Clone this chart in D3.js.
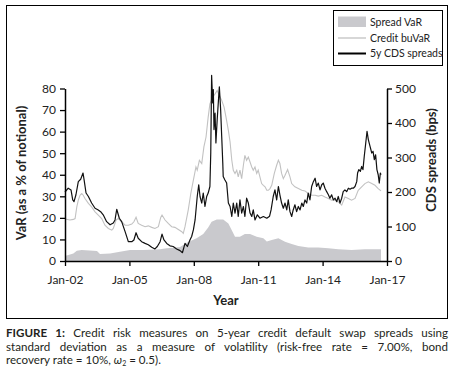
<!DOCTYPE html>
<html>
<head>
<meta charset="utf-8">
<script src="https://cdn.jsdelivr.net/npm/d3@7"></script>
<style>
  html, body { margin: 0; padding: 0; background: #fff; }
  body { width: 455px; height: 375px; overflow: hidden; font-family: Lato, "Open Sans", sans-serif; }
  #cap { position: absolute; left: 6px; top: 326px; width: 442px; font-size: 11.6px; line-height: 13.6px; color: #231f20; }
  #cap div { white-space: nowrap; height: 13.6px; }
  #cap .j { text-align: justify; text-align-last: justify; white-space: normal; }
  #cap b { font-weight: 700; }
  #cap sub { font-size: 7px; vertical-align: baseline; position: relative; top: 2px; line-height: 0; }
</style>
</head>
<body>
<svg id="chart" width="455" height="326" style="position:absolute;left:0;top:0"></svg>
<div id="cap">
  <div class="j"><b>FIGURE 1:</b> Credit risk measures on 5-year credit default swap spreads using</div>
  <div class="j">standard deviation as a measure of volatility (risk-free rate = 7.00%, bond</div>
  <div>recovery rate = 10%, <i>ω</i><sub>2</sub> = 0.5).</div>
</div>
<script>
// ---- Data (decimal year, value) ----
const xTickYears = [2002, 2005, 2008, 2011, 2014, 2017];
const xTickLabels = ["Jan-02", "Jan-05", "Jan-08", "Jan-11", "Jan-14", "Jan-17"];
const leftTicks = [0, 10, 20, 30, 40, 50, 60, 70, 80];
const rightTicks = [0, 100, 200, 300, 400, 500];
const seriesNames = ["Spread VaR", "Credit buVaR", "5y CDS spreads"];

// Spread VaR (% of notional) - area
const spreadVaR = [
  [2002.00, 2.5], [2002.08, 2.5], [2002.39, 3.5], [2002.55, 4.8], [2002.78, 5.1],
  [2003.32, 4.8], [2003.49, 4.6], [2003.63, 3.2], [2004.10, 3.5], [2004.56, 4.3],
  [2005.03, 5.1], [2005.65, 5.1], [2006.43, 5.4], [2006.74, 5.9], [2006.89, 6.0],
  [2007.36, 6.5], [2007.67, 8.5], [2008.13, 10.5], [2008.44, 12.5], [2008.67, 15.5],
  [2008.83, 18.2], [2009.07, 19.2], [2009.37, 19.2], [2009.61, 17.4], [2009.77, 14.3],
  [2009.92, 11.2], [2010.15, 11.2], [2010.38, 12.5], [2010.62, 12.5], [2010.93, 11.2],
  [2011.24, 10.5], [2011.40, 9.0], [2011.63, 9.7], [2011.94, 10.5], [2012.25, 8.9],
  [2012.56, 7.9], [2012.87, 6.9], [2013.33, 6.3], [2013.80, 6.3], [2014.27, 5.9],
  [2014.73, 5.4], [2015.35, 5.1], [2015.97, 5.4], [2016.72, 5.5]
];

// Credit buVaR (% of notional) - light grey line
const creditBuVaR = [
  [2002.00, 19.5], [2002.23, 19.0], [2002.39, 19.3], [2002.47, 19.7], [2002.55, 25.1],
  [2002.62, 28.2], [2002.70, 30.5], [2002.78, 31.3], [2002.85, 30.5], [2002.93, 29.0],
  [2003.09, 26.7], [2003.24, 25.1], [2003.40, 22.8], [2003.55, 21.3], [2003.71, 19.7],
  [2003.86, 16.6], [2004.02, 15.1], [2004.18, 14.3], [2004.25, 15.1], [2004.38, 19.0],
  [2004.48, 19.7], [2004.64, 18.2], [2004.80, 16.6], [2004.95, 16.6], [2005.11, 17.1],
  [2005.21, 18.2], [2005.31, 20.3], [2005.41, 17.4], [2005.57, 16.6], [2005.73, 15.9],
  [2005.88, 16.3], [2006.04, 15.6], [2006.19, 15.1], [2006.35, 15.9], [2006.46, 20.2],
  [2006.52, 21.3], [2006.66, 19.0], [2006.81, 17.4], [2006.97, 15.9], [2007.12, 15.6],
  [2007.28, 14.6], [2007.44, 13.6], [2007.51, 12.8], [2007.59, 15.9], [2007.74, 23.6],
  [2007.86, 31.3], [2007.98, 37.5], [2008.10, 43.6], [2008.16, 42.1], [2008.26, 46.7],
  [2008.37, 45.2], [2008.47, 52.9], [2008.57, 57.5], [2008.67, 66.7], [2008.75, 72.9],
  [2008.88, 76.0], [2008.99, 77.5], [2009.09, 79.1], [2009.19, 76.8], [2009.30, 74.5],
  [2009.41, 71.4], [2009.50, 66.7], [2009.61, 60.6], [2009.69, 55.2], [2009.77, 46.7],
  [2009.84, 42.1], [2009.92, 40.6], [2010.00, 42.1], [2010.07, 39.0], [2010.15, 42.1],
  [2010.23, 38.2], [2010.31, 44.4], [2010.38, 49.0], [2010.46, 46.7], [2010.54, 48.2],
  [2010.62, 45.9], [2010.70, 43.6], [2010.77, 42.1], [2010.85, 43.6], [2010.93, 40.6],
  [2011.00, 42.1], [2011.08, 39.0], [2011.16, 35.9], [2011.24, 35.1], [2011.32, 34.4],
  [2011.40, 32.8], [2011.47, 32.8], [2011.55, 33.6], [2011.63, 35.1], [2011.75, 40.6],
  [2011.86, 44.4], [2011.94, 46.7], [2012.01, 45.2], [2012.09, 40.6], [2012.17, 38.2],
  [2012.25, 39.8], [2012.37, 42.4], [2012.48, 39.0], [2012.56, 35.9], [2012.71, 34.4],
  [2012.87, 33.6], [2013.03, 32.8], [2013.18, 32.5], [2013.33, 31.3], [2013.49, 30.5],
  [2013.65, 30.5], [2013.80, 30.1], [2013.96, 30.5], [2014.11, 29.7], [2014.27, 29.0],
  [2014.42, 28.2], [2014.58, 28.2], [2014.73, 27.4], [2014.89, 25.9], [2015.04, 29.7],
  [2015.20, 29.0], [2015.35, 28.2], [2015.51, 29.0], [2015.66, 32.8], [2015.82, 34.4],
  [2015.97, 35.9], [2016.13, 36.7], [2016.29, 35.9], [2016.44, 35.1], [2016.59, 33.6],
  [2016.72, 32.5]
];

// 5y CDS spreads (bps) - black line, right axis
const cdsSpreads = [
  [2002.00, 200], [2002.15, 211], [2002.28, 206], [2002.36, 177], [2002.42, 172],
  [2002.51, 192], [2002.62, 230], [2002.73, 237], [2002.84, 255], [2002.89, 235],
  [2002.98, 197], [2003.09, 187], [2003.24, 168], [2003.40, 153], [2003.55, 148],
  [2003.66, 143], [2003.78, 134], [2003.94, 114], [2004.10, 105], [2004.25, 110],
  [2004.33, 119], [2004.41, 150], [2004.53, 124], [2004.64, 114], [2004.80, 85],
  [2004.95, 56], [2005.11, 56], [2005.21, 61], [2005.31, 82], [2005.41, 66],
  [2005.57, 56], [2005.73, 51], [2005.88, 47], [2006.04, 40], [2006.19, 35],
  [2006.30, 42], [2006.43, 56], [2006.52, 78], [2006.61, 61], [2006.74, 51],
  [2006.89, 44], [2007.04, 42], [2007.20, 35], [2007.36, 30], [2007.47, 24],
  [2007.59, 51], [2007.70, 42], [2007.82, 61], [2007.90, 71], [2007.98, 90],
  [2008.06, 119], [2008.16, 187], [2008.23, 221], [2008.29, 187], [2008.37, 168],
  [2008.44, 197], [2008.52, 158], [2008.60, 187], [2008.67, 197], [2008.75, 216],
  [2008.79, 313], [2008.83, 538], [2008.88, 458], [2008.91, 497], [2008.94, 381],
  [2008.99, 429], [2009.03, 342], [2009.09, 410], [2009.14, 458], [2009.19, 505],
  [2009.25, 439], [2009.30, 361], [2009.35, 284], [2009.37, 245], [2009.45, 235],
  [2009.53, 226], [2009.61, 168], [2009.69, 158], [2009.77, 129], [2009.84, 168],
  [2009.92, 139], [2010.00, 168], [2010.07, 129], [2010.15, 177], [2010.23, 139],
  [2010.31, 158], [2010.38, 129], [2010.46, 182], [2010.54, 168], [2010.62, 139],
  [2010.70, 129], [2010.77, 148], [2010.85, 119], [2010.96, 134], [2011.08, 124],
  [2011.24, 129], [2011.40, 124], [2011.53, 130], [2011.60, 148], [2011.70, 187],
  [2011.78, 206], [2011.86, 177], [2011.94, 216], [2012.01, 192], [2012.09, 168],
  [2012.17, 153], [2012.25, 168], [2012.33, 148], [2012.40, 177], [2012.48, 143],
  [2012.56, 129], [2012.63, 148], [2012.71, 163], [2012.79, 143], [2012.87, 158],
  [2012.95, 148], [2013.03, 168], [2013.10, 158], [2013.18, 177], [2013.26, 168],
  [2013.33, 197], [2013.41, 177], [2013.49, 216], [2013.57, 230], [2013.65, 240],
  [2013.72, 216], [2013.80, 226], [2013.88, 206], [2013.96, 221], [2014.03, 226],
  [2014.11, 211], [2014.19, 201], [2014.27, 192], [2014.34, 182], [2014.42, 192],
  [2014.50, 177], [2014.58, 182], [2014.66, 172], [2014.73, 187], [2014.81, 168],
  [2014.89, 182], [2014.96, 201], [2015.04, 206], [2015.12, 201], [2015.20, 211],
  [2015.28, 208], [2015.35, 211], [2015.43, 211], [2015.51, 216], [2015.59, 230],
  [2015.63, 255], [2015.69, 265], [2015.76, 260], [2015.82, 274], [2015.88, 265],
  [2015.94, 303], [2016.01, 342], [2016.07, 376], [2016.13, 352], [2016.21, 332],
  [2016.29, 313], [2016.35, 318], [2016.41, 294], [2016.47, 308], [2016.53, 265],
  [2016.59, 250], [2016.64, 226], [2016.69, 255], [2016.72, 250]
];

// ---- Drawing ----
const svg = d3.select("#chart");
const font = "Lato, 'Open Sans', sans-serif";

// outer frame
svg.append("rect").attr("x", 6.5).attr("y", 5.5).attr("width", 441).attr("height", 313)
  .attr("fill", "none").attr("stroke", "#000").attr("stroke-width", 1);

const x = d3.scaleLinear().domain([2002, 2017]).range([65, 387]);
const yL = d3.scaleLinear().domain([0, 80]).range([261, 88.5]);
const yR = d3.scaleLinear().domain([0, 500]).range([261, 88.5]);

// area
svg.append("path").datum(spreadVaR)
  .attr("fill", "#c9c9cd")
  .attr("d", d3.area().x(d => x(d[0])).y0(yL(0)).y1(d => yL(d[1])));

// credit buVaR
svg.append("path").datum(creditBuVaR)
  .attr("fill", "none").attr("stroke", "#c2c2c2").attr("stroke-width", 1.1)
  .attr("d", d3.line().x(d => x(d[0])).y(d => yL(d[1])));

// CDS spreads
svg.append("path").datum(cdsSpreads)
  .attr("fill", "none").attr("stroke", "#111").attr("stroke-width", 1.2)
  .attr("stroke-linejoin", "round")
  .attr("d", d3.line().x(d => x(d[0])).y(d => yR(d[1])));

// axes
const gL = svg.append("g").attr("transform", `translate(${x(2002)},0)`)
  .call(d3.axisLeft(yL).tickValues(leftTicks).tickSize(5).tickSizeOuter(0).tickPadding(4));
const gR = svg.append("g").attr("transform", `translate(${x(2017)},0)`)
  .call(d3.axisRight(yR).tickValues(rightTicks).tickSize(5).tickSizeOuter(0).tickPadding(3));
const gX = svg.append("g").attr("transform", `translate(0,${yL(0)})`)
  .call(d3.axisBottom(x).tickValues(xTickYears).tickFormat((d, i) => xTickLabels[i])
    .tickSize(5).tickSizeOuter(0).tickPadding(9));
[gL, gR, gX].forEach(g => {
  g.selectAll("path.domain").attr("stroke", "#000").attr("stroke-width", 1.5);
  g.selectAll(".tick line").attr("stroke", "#000").attr("stroke-width", 1.3);
  g.selectAll("text").attr("font-family", font).attr("font-size", 12).attr("fill", "#222");
});

// axis titles
svg.append("text").attr("transform", "translate(26,173) rotate(-90)")
  .attr("text-anchor", "middle").attr("font-family", font).attr("font-weight", 700)
  .attr("font-size", 13).attr("fill", "#222").text("VaR (as a % of notional)");
svg.append("text").attr("transform", "translate(436,160) rotate(-90)")
  .attr("text-anchor", "middle").attr("font-family", font).attr("font-weight", 700)
  .attr("font-size", 13).attr("fill", "#222").text("CDS spreads (bps)");
svg.append("text").attr("x", 226).attr("y", 305)
  .attr("text-anchor", "middle").attr("font-family", font).attr("font-weight", 700)
  .attr("font-size", 13).attr("fill", "#222").text("Year");

// legend
const lg = svg.append("g");
lg.append("rect").attr("x", 333.5).attr("y", 10.5).attr("width", 109).attr("height", 55)
  .attr("fill", "#fff").attr("stroke", "#000").attr("stroke-width", 1);
lg.append("rect").attr("x", 338).attr("y", 16.5).attr("width", 28).attr("height", 10.5).attr("fill", "#c9c9cd");
lg.append("line").attr("x1", 338).attr("x2", 366).attr("y1", 38).attr("y2", 38)
  .attr("stroke", "#c2c2c2").attr("stroke-width", 1.3);
lg.append("line").attr("x1", 338).attr("x2", 366).attr("y1", 53.5).attr("y2", 53.5)
  .attr("stroke", "#000").attr("stroke-width", 2);
const legY = [25.5, 41.5, 57];
seriesNames.forEach((n, i) => {
  lg.append("text").attr("x", 370).attr("y", legY[i]).attr("font-family", font)
    .attr("font-size", 10.5).attr("fill", "#222").text(n);
});
</script>
</body>
</html>
